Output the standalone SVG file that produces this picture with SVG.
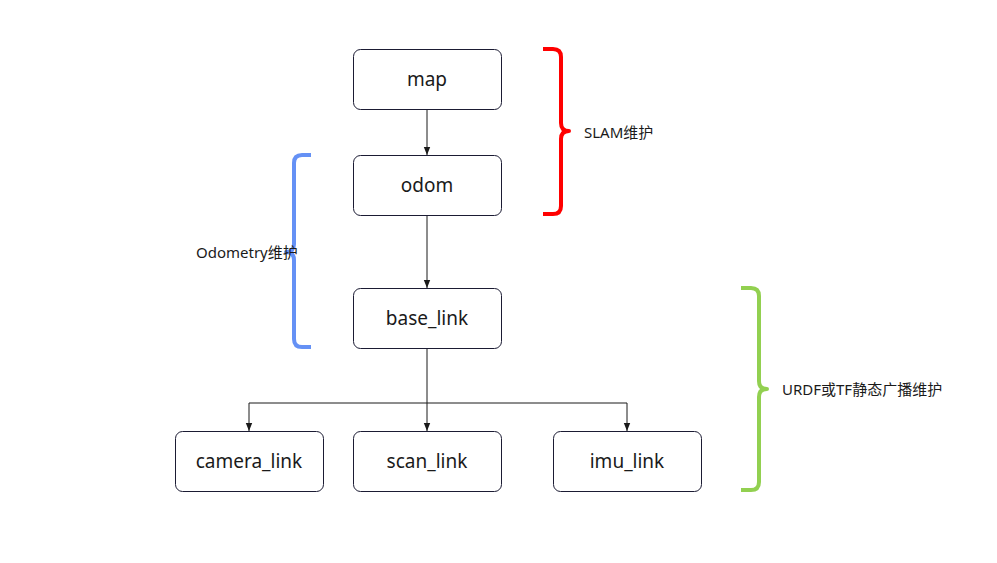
<svg xmlns="http://www.w3.org/2000/svg" width="997" height="563" viewBox="0 0 997 563">
<defs>
<style>
.box{fill:#fff;stroke:#1b1b33;stroke-width:1}
.lbl{font-family:"Noto Sans","Noto Sans CJK SC",sans-serif;font-size:19px;fill:#1a1a1a;text-anchor:middle;dominant-baseline:central}
.note{font-family:"Noto Sans","Noto Sans CJK SC",sans-serif;font-size:15px;fill:#1a1a1a;dominant-baseline:central}
.edge{fill:none;stroke:#1a1a1a;stroke-width:1}
.brace{fill:none;stroke-width:4;stroke-linecap:butt;stroke-linejoin:round}
</style>
<marker id="arr" viewBox="0 0 10 10" refX="10" refY="5" markerWidth="8" markerHeight="8" markerUnits="userSpaceOnUse" orient="auto">
<path d="M0,1 L10,5 L0,9 Z" fill="#1a1a1a"/>
</marker>
</defs>
<rect width="997" height="563" fill="#fff"/>
<g id="connectors">
<path class="edge" d="M427,109 V155" marker-end="url(#arr)"/>
<path class="edge" d="M427,215 V288" marker-end="url(#arr)"/>
<path class="edge" d="M427,348 V431" marker-end="url(#arr)"/>
<path class="edge" d="M427,403 H249 V431" marker-end="url(#arr)"/>
<path class="edge" d="M427,403 H627 V431" marker-end="url(#arr)"/>
</g>
<g id="map"><rect class="box" x="353.5" y="49.5" width="148" height="60" rx="7"/><text class="lbl" x="427" y="79">map</text></g>
<g id="odom"><rect class="box" x="353.5" y="155.5" width="148" height="60" rx="7"/><text class="lbl" x="427" y="185">odom</text></g>
<g id="base_link"><rect class="box" x="353.5" y="288.5" width="148" height="60" rx="7"/><text class="lbl" x="427" y="318">base_link</text></g>
<g id="camera_link"><rect class="box" x="175.5" y="431.5" width="148" height="60" rx="7"/><text class="lbl" x="249" y="461">camera_link</text></g>
<g id="scan_link"><rect class="box" x="353.5" y="431.5" width="148" height="60" rx="7"/><text class="lbl" x="427" y="461">scan_link</text></g>
<g id="imu_link"><rect class="box" x="553.5" y="431.5" width="148" height="60" rx="7"/><text class="lbl" x="627" y="461">imu_link</text></g>
<g id="slam_brace">
<path class="brace" stroke="#ff0000" d="M543,49 H553 Q561,49 561,57 V123 Q561,131 569,131 Q561,131 561,139 V206 Q561,214 553,214 H543"/>
<text class="note" x="584" y="132">SLAM维护</text>
</g>
<g id="odometry_brace">
<path class="brace" stroke="#6591f5" d="M311,155 H302 Q294,155 294,163 V244 Q294,252 286,252 Q294,252 294,260 V339 Q294,347 302,347 H311"/>
<text class="note" x="196" y="252">Odometry维护</text>
</g>
<g id="urdf_brace">
<path class="brace" stroke="#92d050" d="M741,288 H751 Q759,288 759,296 V381 Q759,389 767,389 Q759,389 759,397 V482 Q759,490 751,490 H741"/>
<text class="note" x="782" y="389">URDF或TF静态广播维护</text>
</g>
</svg>
